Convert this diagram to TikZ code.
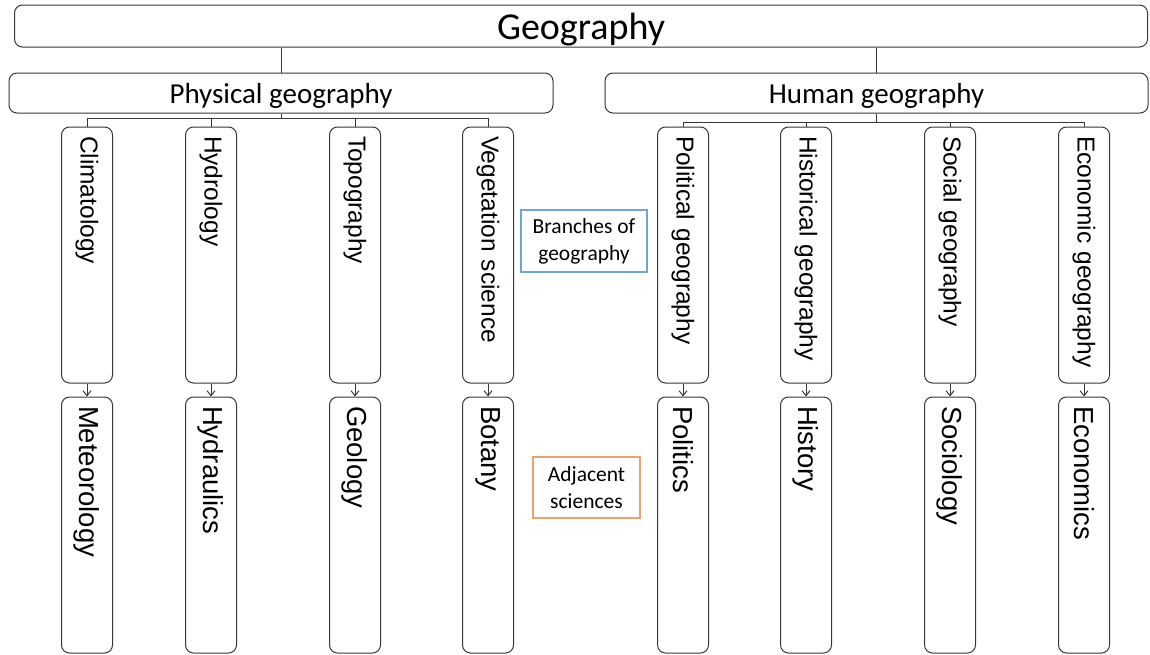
\documentclass[tikz,border=0pt]{standalone}
\usepackage{fontspec}
\setmainfont{Carlito}
\newfontfamily\vertfont{Liberation Sans}
\usetikzlibrary{arrows.meta}
\definecolor{linegray}{RGB}{55,55,55}
\definecolor{branchblue}{RGB}{110,165,220}
\definecolor{adjorange}{RGB}{240,160,110}

\begin{document}
\begin{tikzpicture}[x=1pt,y=-1pt,line width=1pt,>={Straight Barb[length=5pt,width=8pt]},
  rbox/.style={draw=linegray,rounded corners=8pt,inner sep=0pt},
  head/.style={rbox,minimum height=40pt,text depth=0pt,font=\fontsize{29}{34}\selectfont},
  branch/.style={rbox,rotate=-90,minimum height=51pt,minimum width=256pt,text width=238pt,align=left,inner xsep=9pt,font=\vertfont\fontsize{24.5}{28}\selectfont},
  adjacent/.style={branch,minimum width=254pt,font=\vertfont\fontsize{27.5}{32}\selectfont},
  keybox/.style={draw,line width=1.2pt,align=center,inner sep=0pt,font=\fontsize{21.5}{27}\selectfont}]
  \useasboundingbox (0,0) rectangle (1150,654);
  % titulo y dos ramas principales
  \node[rbox,minimum width=1133pt,minimum height=42pt,text depth=0pt,font=\fontsize{38}{44}\selectfont] (geo) at (581,26) {Geography};
  \node[head,minimum width=544pt] (phys) at (281,93) {Physical geography};
  \node[head,minimum width=543pt] (hum) at (876.5,93) {Human geography};
  \draw[linegray] (phys.north) -- (phys.north |- geo.south);
  \draw[linegray] (hum.north) -- (hum.north |- geo.south);
  % ramas y ciencias adyacentes
  \foreach \i/\x/\up/\down in {1/87/Climatology/Meteorology,2/211/Hydrology/Hydraulics,
      3/355/Topography/Geology,4/488/Vegetation science/Botany,5/683/Political geography/Politics,
      6/806/Historical geography/History,7/950/Social geography/Sociology,8/1084/Economic geography/Economics}
  {
    \node[branch] (c\i) at (\x,255) {\up};
    \node[adjacent] (a\i) at (\x,525) {\down};
    \draw[linegray,->] (c\i.east) -- (a\i.west);
  }
  \draw[linegray] (phys.south) -- ++(0,5) coordinate (pbar);
  \draw[linegray] (hum.south) -- ++(0,9) coordinate (hbar);
  \foreach \i in {1,...,4} \draw[linegray] (pbar) -| (c\i.west);
  \foreach \i in {5,...,8} \draw[linegray] (hbar) -| (c\i.west);
  % leyenda
  \node[keybox,draw=branchblue,minimum width=126pt,minimum height=62pt] (keybranch) at (584,241) {Branches of\\geography};
  \node[keybox,draw=adjorange,minimum width=107pt,minimum height=61pt] (keyadj) at (586.5,487.5) {Adjacent\\sciences};
\end{tikzpicture}
\end{document}
